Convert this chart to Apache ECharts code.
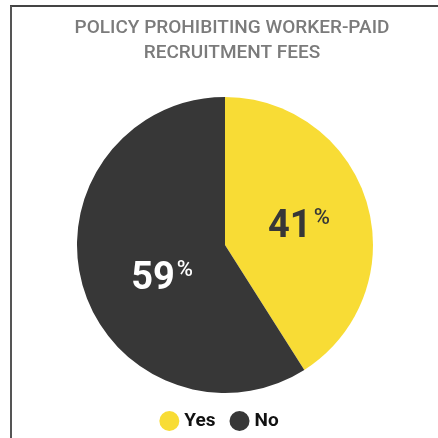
<!DOCTYPE html>
<html>
<head>
<meta charset="utf-8">
<script src="https://cdn.jsdelivr.net/npm/echarts@6/dist/echarts.min.js"></script>
<style>
  html, body { margin: 0; padding: 0; background: #fff; }
  #chart { width: 438px; height: 438px; }
</style>
</head>
<body>
<div id="chart"></div>
<script>
  // 数据
  var categories = ['Yes', 'No']
  var values = [41, 59]
  var sliceColors = ['#f8dc35', '#373737']
  var labelColors = ['#373737', '#ffffff']
  var labelOffsets = [[0, 4], [11, 13]]

  var myChart = echarts.init(document.getElementById('chart'))

  var pieData = []
  for (var i = 0; i < categories.length; i++) {
    pieData.push({
      name: categories[i],
      value: values[i],
      itemStyle: { color: sliceColors[i] },
      label: { color: labelColors[i], offset: labelOffsets[i] }
    })
  }

  var option = {
    backgroundColor: '#fff',
    title: {
      text: 'POLICY PROHIBITING WORKER-PAID\nRECRUITMENT FEES',
      left: 227,
      textAlign: 'center',
      top: 11,
      textStyle: {
        fontFamily: 'Roboto',
        fontWeight: 500,
        fontSize: 19,
        lineHeight: 25,
        color: '#7b7b7b'
      }
    },
    legend: {
      data: categories,
      top: 406,
      left: 'center',
      icon: 'circle',
      itemWidth: 20,
      itemHeight: 20,
      itemGap: 14,
      textStyle: {
        fontFamily: 'Roboto',
        fontWeight: 'bold',
        fontSize: 19,
        color: '#111'
      }
    },
    graphic: [
      { type: 'line', shape: { x1: 10, y1: 6, x2: 438, y2: 6 }, style: { stroke: '#444', lineWidth: 2 } },
      { type: 'line', shape: { x1: 11, y1: 6, x2: 11, y2: 438 }, style: { stroke: '#555', lineWidth: 2 } }
    ],
    series: [{
      type: 'pie',
      center: [225, 245],
      radius: [0, 148],
      startAngle: 90,
      clockwise: true,
      label: {
        show: true,
        position: 'inside',
        fontFamily: 'Roboto',
        formatter: function (p) {
          return '{num|' + p.value + '}{pct|%}'
        },
        rich: {
          num: { fontSize: 38, fontWeight: 'bold', fontFamily: 'Roboto', lineHeight: 40 },
          pct: { fontSize: 22, fontFamily: 'Roboto', fontWeight: 500, verticalAlign: 'top', lineHeight: 40, padding: [0, 0, 14, 2] }
        }
      },
      labelLine: { show: false },
      emphasis: { disabled: true },
      data: pieData
    }]
  }
  myChart.setOption(option)
</script>
</body>
</html>
